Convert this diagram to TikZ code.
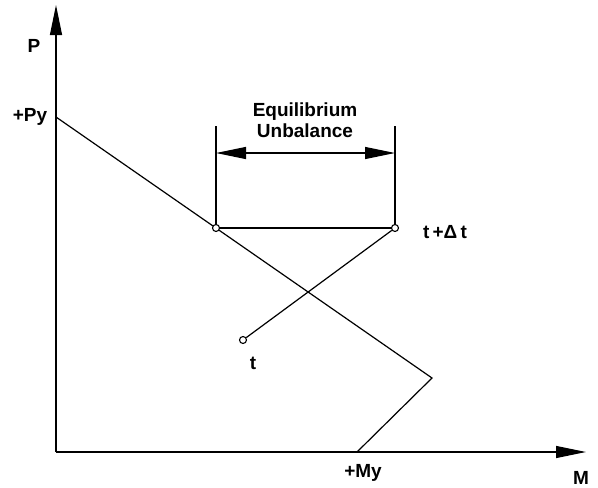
\documentclass[tikz,border=0pt]{standalone}
\usepackage{fontspec}
\setmainfont{Liberation Sans}
\usetikzlibrary{arrows.meta}
\begin{document}
\begin{tikzpicture}[x=1pt,y=-1pt,
  lbl/.style={font=\fontsize{19}{21}\selectfont\bfseries, inner sep=0pt},
  ln/.style={line width=1.2pt},
  pt/.style={circle, draw, line width=1.1pt, minimum size=7pt, inner sep=0pt, fill=white},
  bigarrow/.style={-{Triangle[length=30pt,width=12pt]}}
]
\useasboundingbox (0,0) rectangle (598,488);
% axes
\coordinate (O) at (56,452);
\coordinate (Ptop) at (56,5);
\coordinate (Mend) at (586,452);
\draw[ln,bigarrow] (O) -- (Ptop);
\draw[ln,bigarrow] (O) -- (Mend);
% interaction line
\coordinate (Py) at (56,117);
\coordinate (K) at (432,378);
\coordinate (My) at (357,452);
\draw[ln] (Py) -- (K) -- (My);
% points
\node[pt] (A) at (216,228) {};
\node[pt] (B) at (395,228) {};
\node[pt] (T) at (243,340) {};
\draw[ln] (A) -- (B);
\draw[ln] (T) -- (B);
% dimension lines
\coordinate (A1) at (216,126);
\coordinate (B1) at (395,126);
\draw[ln] (A) -- (A1);
\draw[ln] (B) -- (B1);
\coordinate (DA) at (216,153);
\coordinate (DB) at (395,153);
\draw[ln,{Triangle[length=30pt,width=12pt]}-{Triangle[length=30pt,width=12pt]}] (DA) -- (DB);
% labels
\node[lbl] (lP) at (34,46) {P};
\node[lbl] (lPy) at (30,117) {+Py};
\node[lbl, align=center] (lEq) at (305,120) {Equilibrium\\Unbalance};
\node[lbl] (ltdt) at (445,232) {t\,+Δ\,t};
\node[lbl] (lt) at (253,363) {t};
\node[lbl] (lMy) at (363,473) {+My};
\node[lbl] (lM) at (581,478) {M};
\end{tikzpicture}
\end{document}
